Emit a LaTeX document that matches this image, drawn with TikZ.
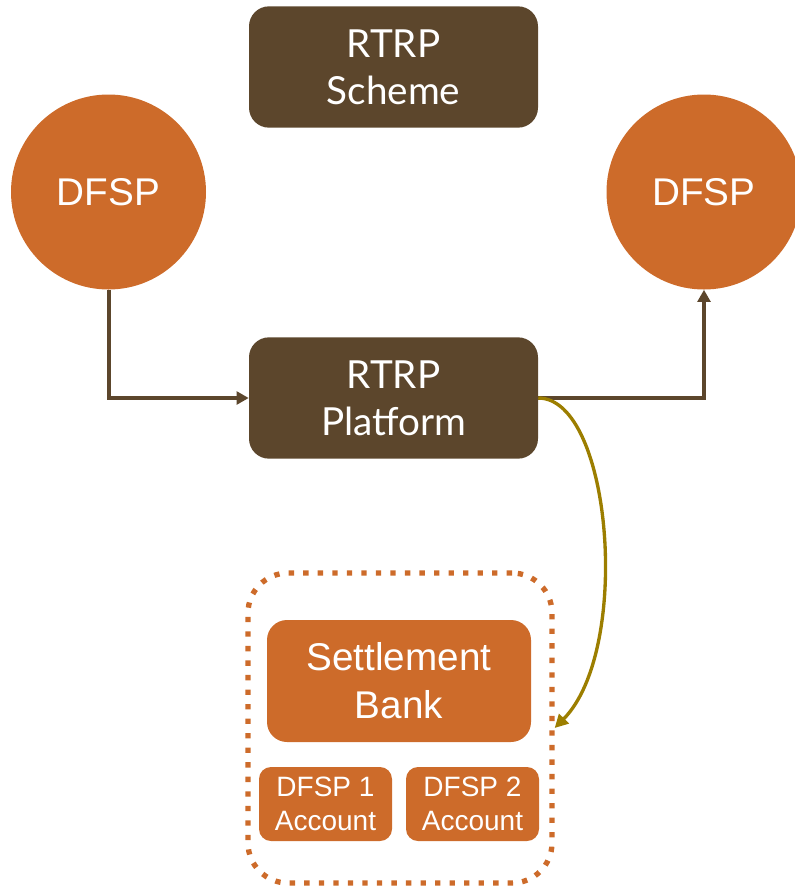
\documentclass[tikz,border=0pt]{standalone}
\usepackage{fontspec}
\setmainfont{Liberation Sans}
\newfontfamily\boxfont{Lato}
\usetikzlibrary{arrows.meta}
\definecolor{rtrpbrown}{RGB}{92,70,44}
\definecolor{dfsporange}{RGB}{205,107,42}
\definecolor{settleolive}{RGB}{156,126,0}
\begin{document}
\begin{tikzpicture}[x=0.75pt,y=-0.75pt,
  rtrpbox/.style={fill=rtrpbrown,rounded corners=15pt,minimum width=216.75pt,
    minimum height=91pt,inner sep=0pt,align=center,text=white,
    font=\boxfont\fontsize{29}{35}\selectfont},
  dfspnode/.style={circle,fill=dfsporange,minimum size=146.25pt,inner sep=0pt,
    text=white,font=\fontsize{29}{35}\selectfont},
  bankbox/.style={fill=dfsporange,rounded corners=15pt,minimum width=198pt,
    minimum height=91.5pt,inner sep=0pt,align=center,text=white,
    font=\fontsize{29}{36}\selectfont},
  acctbox/.style={fill=dfsporange,rounded corners=9pt,minimum width=99.75pt,
    minimum height=55.5pt,inner sep=0pt,align=center,text=white,
    font=\fontsize{21}{26}\selectfont},
  groupbox/.style={draw=dfsporange,line width=4pt,dash pattern=on 4pt off 6.9pt,
    rounded corners=30pt,minimum width=228pt,minimum height=232.5pt,inner sep=0pt},
  flow/.style={draw=rtrpbrown,line width=3pt,
    -{Triangle[length=9pt,width=9.5pt]}},
  settleflow/.style={draw=settleolive,line width=2.5pt,
    -{Triangle[length=10pt,width=10pt]}}
]
\useasboundingbox (0,0) rectangle (794,886);

% top row
\node[rtrpbox] (scheme) at (393.5,67) {RTRP\\Scheme};
\node[dfspnode] (dfspl) at (108.5,192) {DFSP};
\node[dfspnode] (dfspr) at (704,192) {DFSP};

% platform
\node[rtrpbox] (platform) at (393.5,398) {RTRP\\Platform};

% settlement group
\node[groupbox] (bankgroup) at (400,728) {};
\node[bankbox] (bank) at (399,681) {Settlement\\Bank};
\node[acctbox] (acct1) at (325.5,804) {DFSP 1\\Account};
\node[acctbox] (acct2) at (472.5,804) {DFSP 2\\Account};

% connectors
\draw[flow] (dfspl.south) |- (platform.west);
\draw[flow] (platform.east) -| (dfspr.south);
\draw[settleflow] (platform.east) .. controls (612,398) and (632,650) .. (bankgroup.east);
\end{tikzpicture}
\end{document}
